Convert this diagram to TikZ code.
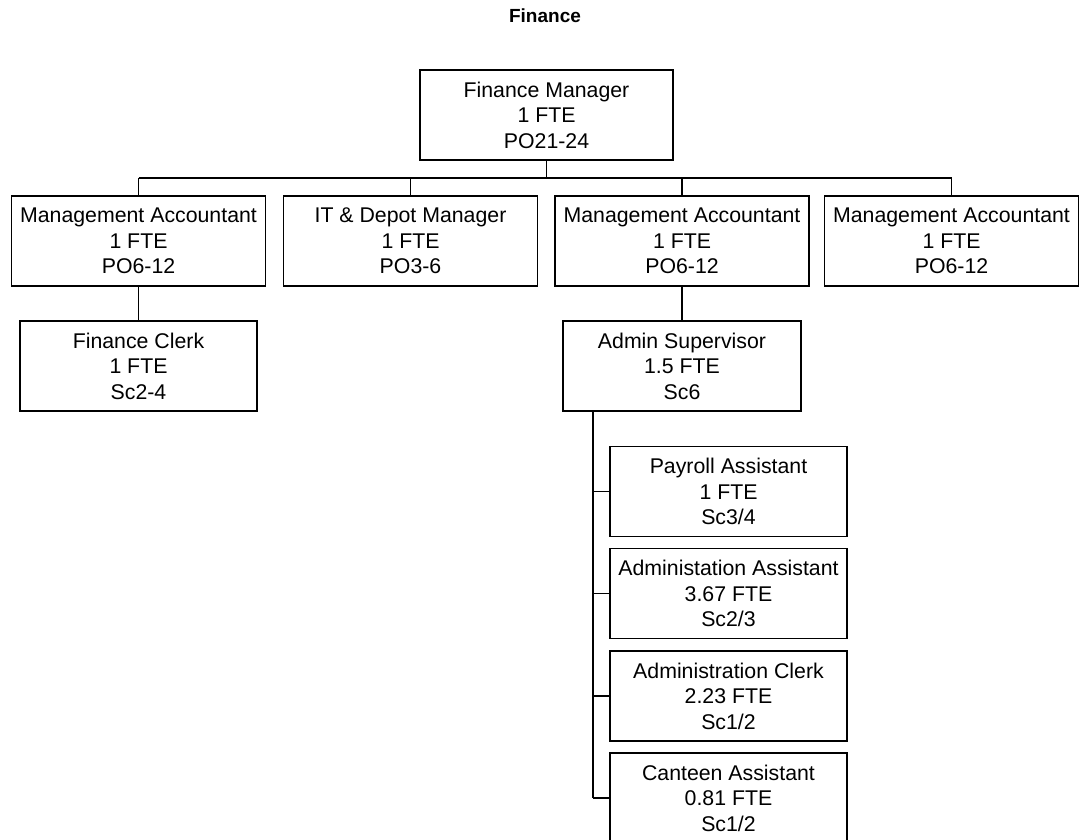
\documentclass[tikz,border=0pt]{standalone}
\usepackage{fontspec}
\setmainfont{Liberation Sans}
\usetikzlibrary{positioning}

\begin{document}
\begin{tikzpicture}[x=1pt,y=-1pt,
  post/.style={draw,line width=1.4pt,align=center,inner sep=0pt,minimum height=90pt,font=\fontsize{21.3}{25.5}\selectfont},
  wide/.style={post,minimum width=254pt},
  narrow/.style={post,minimum width=237pt},
  link/.style={line width=1.4pt}]
\useasboundingbox (0,0) rectangle (1079,840);
\node[font=\fontsize{19}{23}\selectfont\bfseries] (title) at (545,16) {Finance};

\node[post,minimum width=253pt] (fm) at (546.5,115) {Finance Manager\\1 FTE\\PO21-24};

\node[wide] (ma1) at (138.5,241) {Management Accountant\\1 FTE\\PO6-12};
\node[wide] (it)  at (410.5,241) {IT \& Depot Manager\\1 FTE\\PO3-6};
\node[wide] (ma3) at (682,241) {Management Accountant\\1 FTE\\PO6-12};
\node[wide] (ma4) at (951.5,241) {Management Accountant\\1 FTE\\PO6-12};

\node[narrow] (fc) at (138.5,366) {Finance Clerk\\1 FTE\\Sc2-4};
\node[narrow,minimum width=238pt] (as) at (682,366) {Admin Supervisor\\1.5 FTE\\Sc6};

\node[narrow] (pa) at (728.5,491.5) {Payroll Assistant\\1 FTE\\Sc3/4};
\node[narrow,below=10.8pt of pa] (ad) {Administation Assistant\\3.67 FTE\\Sc2/3};
\node[narrow,below=10.8pt of ad] (ac) {Administration Clerk\\2.23 FTE\\Sc1/2};
\node[narrow,below=10.8pt of ac] (ca) {Canteen Assistant\\0.81 FTE\\Sc1/2};

\coordinate (bus) at (0,178);
\coordinate (trunk) at (593,411);

\draw[link] (fm.south) -- (fm.south |- bus);
\draw[link] (ma1.north |- bus) -- (ma4.north |- bus);
\foreach \n in {ma1,it,ma3,ma4}
  \draw[link] (\n.north |- bus) -- (\n.north);
\draw[link] (ma1) -- (fc);
\draw[link] (ma3) -- (as);

\draw[link] (as.south -| trunk) -- (trunk |- ca.west);
\foreach \n in {pa,ad,ac,ca}
  \draw[link] (trunk |- \n.west) -- (\n.west);

\end{tikzpicture}
\end{document}
